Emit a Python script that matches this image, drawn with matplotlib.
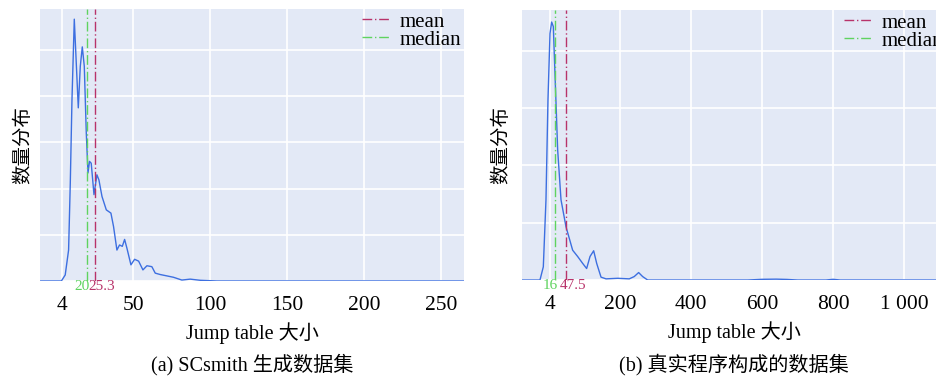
import matplotlib
matplotlib.use('Agg')
import matplotlib.pyplot as plt

plt.rcParams['font.family'] = ['Liberation Serif', 'Noto Sans CJK SC']

# density curves (y in grid units)
sc_x = [-10, 3.4, 5.9, 8.1, 9.2, 10.3, 11.8, 14.4, 15.7, 17.0, 18.3, 19.6, 20.7, 21.7, 22.8,
        24.6, 26.5, 27.8, 29.8, 32.6, 35.6, 37.3, 39.5, 41.2, 43.0, 44.5, 46.0, 48.6, 51.0,
        53.6, 56.4, 59.0, 62.2, 64.4, 67.6, 72.0, 76.3, 81.7, 87.1, 93.6, 104.4, 265]
sc_y = [0, 0, 0.13, 0.67, 2.12, 3.93, 5.67, 3.75, 4.65, 5.07, 4.65, 3.2, 2.34, 2.59, 2.55,
        1.87, 2.30, 2.19, 1.83, 1.54, 1.47, 1.18, 0.67, 0.78, 0.75, 0.90, 0.71, 0.35, 0.47,
        0.43, 0.24, 0.33, 0.31, 0.17, 0.14, 0.11, 0.08, 0.02, 0.04, 0.015, 0, 0]

real_x = [-76, -25.4, -16, -8.5, -2.9, 2.8, 7.5, 12.2, 17.8, 24.4, 33.8, 47.8, 66.6, 80.7,
          94.8, 106, 115.5, 125.8, 134.3, 146.5, 160.6, 193.5, 226, 240, 252.4, 263.7, 277.8,
          560, 600, 640, 670, 700, 780, 800, 820, 1118]
real_y = [0, 0, 0.23, 1.4, 3.14, 4.30, 4.5, 4.42, 3.43, 2.27, 1.40, 0.93, 0.52, 0.41,
          0.29, 0.20, 0.41, 0.51, 0.29, 0.05, 0.02, 0.03, 0.02, 0.06, 0.13, 0.06, 0,
          0, 0.012, 0.015, 0.01, 0, 0, 0.012, 0, 0]

sc_mean, sc_median = 25.3, 20
real_mean, real_median = 47.5, 16

sc_ticks = [4, 50, 100, 150, 200, 250]
sc_ticklabels = ['4', '50', '100', '150', '200', '250']
real_ticks = [4, 200, 400, 600, 800, 1000]
real_ticklabels = ['4', '200', '400', '600', '800', '1 000']

bg = '#e3e9f6'
blue = '#3d6fe0'
c_mean = '#b8336a'
c_median = '#5fd35f'
dashdot = (0, (7, 2, 1, 2))

fig = plt.figure(figsize=(9.36, 3.76), dpi=100)


def panel(rect, x, y, mean, median, ticks, ticklabels, xlim, ylim, nlines, caption, ylab_x):
    ax = fig.add_axes(rect)
    ax.set_facecolor(bg)
    for s in ax.spines.values():
        s.set_visible(False)
    ax.set_axisbelow(True)
    ax.grid(True, color='white', lw=1.2)
    ax.plot(x, y, color=blue, lw=1.0)
    ax.axvline(mean, color=c_mean, lw=1.0, linestyle=dashdot, label='mean')
    ax.axvline(median, color=c_median, lw=1.0, linestyle=dashdot, label='median')
    ax.set_xlim(*xlim)
    ax.set_ylim(*ylim)
    ax.set_yticks(range(nlines))
    ax.set_yticklabels([])
    ax.set_xticks(ticks)
    ax.set_xticklabels(ticklabels, fontsize=15.5)
    ax.tick_params(length=0, pad=11)
    ax.set_ylabel('数量分布', fontsize=14)
    ax.yaxis.set_label_coords(ylab_x, 0.5)
    ax.set_xlabel('Jump table 大小', fontsize=14.5, labelpad=5)
    tr = ax.get_xaxis_transform()
    ax.annotate(f'{median:g}', (median, -0.022), xycoords=tr, xytext=(2, 0),
                textcoords='offset points', ha='right', va='center', fontsize=11, color=c_median)
    ax.annotate(f'{mean:g}', (mean, -0.022), xycoords=tr, xytext=(-4.5, 0),
                textcoords='offset points', ha='left', va='center', fontsize=11, color=c_mean)
    ax.legend(loc='upper right', frameon=False, fontsize=15, handlelength=1.4,
              handletextpad=0.4, labelspacing=-0.08, borderaxespad=0.1, borderpad=0.05)
    cx = rect[0] + rect[2] / 2
    fig.text(cx, 0.03, caption, ha='center', va='center', fontsize=14.5)
    return ax


panel([0.0427, 0.2527, 0.453, 0.7233], sc_x, sc_y, sc_mean, sc_median,
      sc_ticks, sc_ticklabels, (-10.5, 265), (0, 5.89), 6, '(a) SCsmith 生成数据集', -0.018)
panel([0.5577, 0.2553, 0.453, 0.7181], real_x, real_y, real_mean, real_median,
      real_ticks, real_ticklabels, (-76, 1118), (0, 4.71), 5, '(b) 真实程序构成的数据集', -0.028)

fig.savefig('out.png', dpi=100)
